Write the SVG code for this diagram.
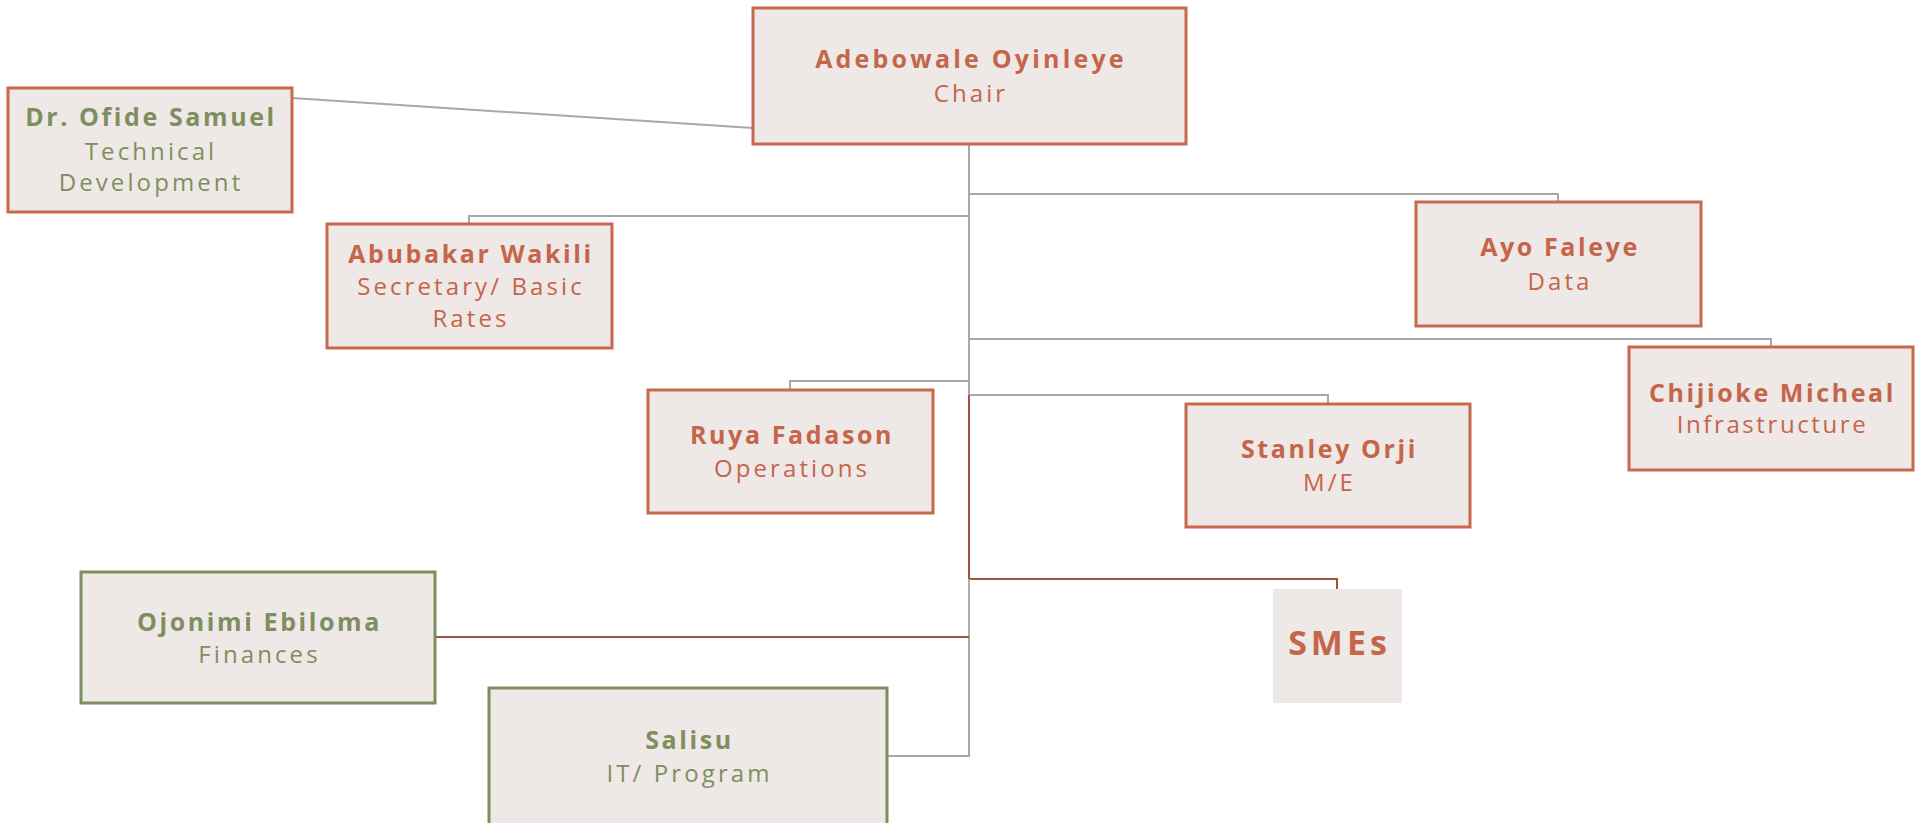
<svg xmlns="http://www.w3.org/2000/svg" width="1921" height="823" viewBox="0 0 1921 823">
<style>
.box{fill:#eee8e6;stroke-width:3}
.o{stroke:#c8694c}
.g{stroke:#7e8f5f}
.nm{font-family:"Open Sans",Lato,"Liberation Sans",sans-serif;font-weight:700;font-size:25px;letter-spacing:2.6px;text-anchor:middle}
.sb{font-family:"Open Sans",Lato,"Liberation Sans",sans-serif;font-weight:400;font-size:24px;letter-spacing:3.1px;text-anchor:middle}
.to{fill:#c5654a}
.tg{fill:#7e8f5f}
.ln{fill:none;stroke:#aaa7a7;stroke-width:2}
.rd{fill:none;stroke:#a0523d;stroke-width:2}
</style>
<rect width="1921" height="823" fill="#ffffff"/>
<g id="connectors">
<line class="ln" x1="292" y1="98" x2="753" y2="128"/>
<polyline class="ln" points="969,144 969,395"/>
<polyline class="ln" points="969,194 1558,194 1558,202"/>
<polyline class="ln" points="969,216 469,216 469,224"/>
<polyline class="ln" points="969,339 1771,339 1771,347"/>
<polyline class="ln" points="969,381 790,381 790,390"/>
<polyline class="ln" points="969,395 1328,395 1328,404"/>
<polyline class="rd" points="969,395 969,579 1337,579 1337,589"/>
<polyline class="ln" points="969,579 969,637" style="stroke:#b8a9a7"/>
<polyline class="ln" points="969,637 969,756 887,756"/>
<line class="rd" x1="435" y1="637" x2="969" y2="637"/>
</g>
<g id="chair">
<rect class="box o" x="753" y="8" width="433" height="136"/>
<text class="nm to" x="971" y="68" style="letter-spacing:3.2px">Adebowale Oyinleye</text>
<text class="sb to" x="971" y="102">Chair</text>
</g>
<g id="ofide">
<rect class="box o" x="8" y="88" width="284" height="124"/>
<text class="nm tg" x="151" y="126">Dr. Ofide Samuel</text>
<text class="sb tg" x="151" y="160">Technical</text>
<text class="sb tg" x="151" y="191">Development</text>
</g>
<g id="abubakar">
<rect class="box o" x="327" y="224" width="285" height="124"/>
<text class="nm to" x="471" y="263">Abubakar Wakili</text>
<text class="sb to" x="471" y="295">Secretary/ Basic</text>
<text class="sb to" x="471" y="327">Rates</text>
</g>
<g id="ayo">
<rect class="box o" x="1416" y="202" width="285" height="124"/>
<text class="nm to" x="1560" y="256">Ayo Faleye</text>
<text class="sb to" x="1560" y="290">Data</text>
</g>
<g id="chijioke">
<rect class="box o" x="1629" y="347" width="284" height="123"/>
<text class="nm to" x="1772.5" y="402">Chijioke Micheal</text>
<text class="sb to" x="1772.5" y="433" style="letter-spacing:2.6px">Infrastructure</text>
</g>
<g id="ruya">
<rect class="box o" x="648" y="390" width="285" height="123"/>
<text class="nm to" x="792" y="444">Ruya Fadason</text>
<text class="sb to" x="792" y="477">Operations</text>
</g>
<g id="stanley">
<rect class="box o" x="1186" y="404" width="284" height="123"/>
<text class="nm to" x="1329.5" y="458">Stanley Orji</text>
<text class="sb to" x="1329.5" y="491">M/E</text>
</g>
<g id="ojonimi">
<rect class="box g" x="81" y="572" width="354" height="131"/>
<text class="nm tg" x="259.5" y="631">Ojonimi Ebiloma</text>
<text class="sb tg" x="259.5" y="663">Finances</text>
</g>
<g id="salisu">
<rect class="box g" x="489" y="688" width="398" height="150"/>
<text class="nm tg" x="689.5" y="749">Salisu</text>
<text class="sb tg" x="689.5" y="782">IT/ Program</text>
</g>
<g id="smes">
<rect x="1273" y="589" width="129" height="114" fill="#eee8e6"/>
<text class="nm to" x="1339.5" y="655" style="font-size:34px;letter-spacing:4px">SMEs</text>
</g>
</svg>
